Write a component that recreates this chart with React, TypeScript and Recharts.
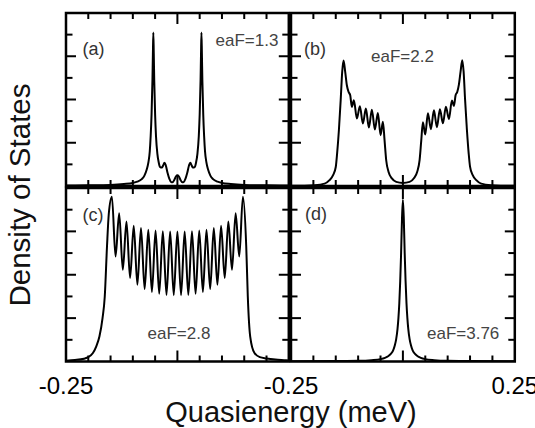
import { LineChart, Line, XAxis, YAxis, ReferenceLine, ReferenceArea } from "recharts";

const FONT = '"Liberation Sans", Arial, Helvetica, sans-serif';

// [quasienergy (meV), density of states] for each field strength
const dosA: [number, number][] = [
  [-0.25, 0.02], [-0.2, 0.03], [-0.15, 0.05], [-0.12, 0.09], [-0.1, 0.14], [-0.09, 0.2],
  [-0.08, 0.32], [-0.074, 0.48], [-0.069, 0.75], [-0.065, 1.1], [-0.062, 1.6], [-0.06, 2.3],
  [-0.058, 3.3], [-0.056, 4.9], [-0.055, 6.1], [-0.054, 7.1], [-0.053, 6.1], [-0.052, 4.9],
  [-0.05, 3.3], [-0.048, 2.3], [-0.045, 1.5], [-0.042, 1.1], [-0.039, 0.88], [-0.035, 0.85],
  [-0.032, 0.95], [-0.029, 1.08], [-0.026, 0.95], [-0.022, 0.6], [-0.018, 0.33], [-0.014, 0.18],
  [-0.011, 0.17], [-0.007, 0.28], [-0.003, 0.45], [0, 0.5], [0.003, 0.45], [0.007, 0.28],
  [0.011, 0.17], [0.014, 0.18], [0.018, 0.33], [0.022, 0.6], [0.026, 0.95], [0.029, 1.08],
  [0.032, 0.95], [0.035, 0.85], [0.039, 0.88], [0.042, 1.1], [0.045, 1.5], [0.048, 2.3],
  [0.05, 3.3], [0.052, 4.9], [0.053, 6.1], [0.054, 7.1], [0.055, 6.1], [0.056, 4.9],
  [0.058, 3.3], [0.06, 2.3], [0.062, 1.6], [0.065, 1.1], [0.069, 0.75], [0.074, 0.48],
  [0.08, 0.32], [0.09, 0.2], [0.1, 0.14], [0.12, 0.09], [0.15, 0.05], [0.2, 0.03], [0.25, 0.02],
];

const dosB: [number, number][] = [
  [-0.25, 0.01], [-0.242, 0.01], [-0.197, 0.04], [-0.175, 0.11], [-0.164, 0.27], [-0.156, 0.5],
  [-0.15, 0.88], [-0.147, 1.5], [-0.143, 2.58], [-0.139, 3.97], [-0.1356, 5.28], [-0.1326, 5.8],
  [-0.1289, 5.28], [-0.1252, 4.66], [-0.1214, 4.35], [-0.1177, 4.2], [-0.114, 3.66], [-0.1095, 3.97],
  [-0.1028, 3.12], [-0.0961, 3.69], [-0.0894, 2.89], [-0.0827, 3.58], [-0.076, 2.7], [-0.0693, 3.53],
  [-0.0626, 2.61], [-0.0559, 3.38], [-0.0499, 2.35], [-0.0447, 2.97], [-0.041, 2.12], [-0.0373, 1.19],
  [-0.032, 0.65], [-0.0246, 0.35], [-0.0149, 0.19], [0, 0.14], [0.0149, 0.19], [0.0246, 0.36],
  [0.032, 0.66], [0.0373, 1.2], [0.041, 2.1], [0.0447, 2.95], [0.0499, 2.38], [0.0559, 3.36],
  [0.0626, 2.63], [0.0693, 3.5], [0.076, 2.72], [0.0827, 3.55], [0.0894, 2.9], [0.0961, 3.66],
  [0.1028, 3.1], [0.1095, 3.95], [0.114, 3.7], [0.1177, 4.2], [0.1214, 4.35], [0.1252, 4.7],
  [0.1289, 5.3], [0.1326, 5.82], [0.1356, 5.3], [0.139, 3.97], [0.143, 2.6], [0.147, 1.5],
  [0.15, 0.9], [0.156, 0.5], [0.164, 0.27], [0.175, 0.11], [0.197, 0.04], [0.242, 0.01], [0.25, 0.01],
];

const dosC: [number, number][] = [
  [-0.25, 0.04], [-0.23, 0.07], [-0.21, 0.13], [-0.2, 0.2], [-0.19, 0.38], [-0.182, 0.7],
  [-0.175, 1.15], [-0.168, 2.0], [-0.163, 3.0], [-0.158, 5.3], [-0.154, 6.8], [-0.147, 7.6],
  [-0.1388, 4.84], [-0.1307, 6.84], [-0.1225, 4.23], [-0.1143, 6.46], [-0.1062, 3.85], [-0.098, 6.26],
  [-0.0898, 3.54], [-0.0817, 6.15], [-0.0735, 3.34], [-0.0653, 6.07], [-0.0572, 3.21], [-0.049, 6.04],
  [-0.0408, 3.12], [-0.0327, 6.01], [-0.0245, 3.07], [-0.0163, 6.0], [-0.0082, 3.06], [0, 6.0],
  [0.0082, 3.06], [0.0163, 6.0], [0.0245, 3.07], [0.0327, 6.01], [0.0408, 3.12], [0.049, 6.04],
  [0.0572, 3.21], [0.0653, 6.07], [0.0735, 3.34], [0.0817, 6.15], [0.0898, 3.54], [0.098, 6.26],
  [0.1062, 3.85], [0.1143, 6.46], [0.1225, 4.23], [0.1307, 6.84], [0.1388, 4.84], [0.147, 7.6],
  [0.1545, 5.3], [0.158, 3.0], [0.1634, 1.15], [0.173, 0.39], [0.185, 0.2], [0.2, 0.14],
  [0.22, 0.09], [0.244, 0.06], [0.25, 0.05],
];

const dosD: [number, number][] = [
  [-0.25, 0.01], [-0.15, 0.02], [-0.1, 0.03], [-0.07, 0.06], [-0.05, 0.11], [-0.04, 0.17],
  [-0.033, 0.24], [-0.027, 0.35], [-0.022, 0.5], [-0.018, 0.75], [-0.015, 1.03], [-0.012, 1.5],
  [-0.01, 2.0], [-0.008, 2.7], [-0.006, 3.7], [-0.004, 5.0], [-0.002, 6.6], [0, 7.45],
  [0.002, 6.6], [0.004, 5.0], [0.006, 3.7], [0.008, 2.7], [0.01, 2.0], [0.012, 1.5],
  [0.015, 1.03], [0.018, 0.75], [0.022, 0.5], [0.027, 0.35], [0.033, 0.24], [0.04, 0.17],
  [0.05, 0.11], [0.07, 0.06], [0.1, 0.03], [0.15, 0.02], [0.25, 0.01],
];

const X_DOMAIN: [number, number] = [-0.25, 0.25];
const Y_DOMAIN: [number, number] = [0, 8];
const X_MINOR = [-0.2, -0.15, -0.1, -0.05, 0.05, 0.1, 0.15, 0.2];
const X_MAJOR = [0];
const Y_MINOR = [1, 3, 5, 7];
const Y_MAJOR = [2, 4, 6];

type Panel = {
  id: string;
  data: [number, number][];
  x: number;
  y: number;
  w: number;
  h: number;
  ticks: number[];
  pad: number;
};

const PANELS: Panel[] = [
  { id: "a", data: dosA, x: 66, y: 12.8, w: 222.8, h: 173, ticks: [], pad: 4 },
  { id: "b", data: dosB, x: 291.2, y: 12.8, w: 223.8, h: 173, ticks: [], pad: 4 },
  { id: "c", data: dosC, x: 66, y: 188.2, w: 222.8, h: 173.5, ticks: [-0.25], pad: 40 },
  { id: "d", data: dosD, x: 291.2, y: 188.2, w: 223.8, h: 173.5, ticks: [-0.25, 0.25], pad: 40 },
];

const LABELS = [
  { text: "(a)", x: 82.5, y: 54.5, size: 18, fill: "#333" },
  { text: "eaF=1.3", x: 215.5, y: 45.5, size: 17, fill: "#444" },
  { text: "(b)", x: 304, y: 54.5, size: 18, fill: "#333" },
  { text: "eaF=2.2", x: 371, y: 62, size: 17, fill: "#444" },
  { text: "(c)", x: 82.5, y: 221, size: 18, fill: "#333" },
  { text: "eaF=2.8", x: 147.5, y: 339, size: 17, fill: "#444" },
  { text: "(d)", x: 305, y: 220, size: 18, fill: "#333" },
  { text: "eaF=3.76", x: 427, y: 339, size: 17, fill: "#444" },
];

function tickMarks(h: number, w: number) {
  // tick lengths in data units, from pixel lengths
  const yPx = (Y_DOMAIN[1] - Y_DOMAIN[0]) / h;
  const xPx = (X_DOMAIN[1] - X_DOMAIN[0]) / w;
  const segs: { x1: number; y1: number; x2: number; y2: number }[] = [];
  const vert = (x: number, len: number) => {
    segs.push({ x1: x, y1: Y_DOMAIN[0], x2: x, y2: Y_DOMAIN[0] + len * yPx });
    segs.push({ x1: x, y1: Y_DOMAIN[1], x2: x, y2: Y_DOMAIN[1] - len * yPx });
  };
  const horiz = (y: number, len: number) => {
    segs.push({ x1: X_DOMAIN[0], y1: y, x2: X_DOMAIN[0] + len * xPx, y2: y });
    segs.push({ x1: X_DOMAIN[1], y1: y, x2: X_DOMAIN[1] - len * xPx, y2: y });
  };
  X_MINOR.forEach((t) => vert(t, 6));
  X_MAJOR.forEach((t) => vert(t, 11));
  Y_MINOR.forEach((t) => horiz(t, 6.5));
  Y_MAJOR.forEach((t) => horiz(t, 10));
  return segs;
}

function DosPanel({ p }: { p: Panel }) {
  const rows = p.data.map(([x, y]) => ({ x, y }));
  const showAxis = p.ticks.length > 0;
  const margin = { top: 4, right: p.pad, bottom: showAxis ? 0 : 4, left: p.pad };
  const axisH = 40;
  const width = p.w + margin.left + margin.right;
  const height = p.h + margin.top + (showAxis ? axisH : margin.bottom);
  return (
    <div style={{ position: "absolute", left: p.x - margin.left, top: p.y - margin.top }}>
      <LineChart width={width} height={height} data={rows} margin={margin}>
        <XAxis
          type="number"
          dataKey="x"
          domain={X_DOMAIN}
          ticks={p.ticks}
          hide={!showAxis}
          height={axisH}
          axisLine={false}
          tickLine={false}
          tickSize={0}
          tickMargin={15}
          interval={0}
          allowDataOverflow
          tick={{ fontSize: 24, fill: "#000", fontFamily: FONT }}
        />
        <YAxis type="number" domain={Y_DOMAIN} hide allowDataOverflow />
        <Line
          type="monotone"
          dataKey="y"
          stroke="#000"
          strokeWidth={2}
          dot={false}
          isAnimationActive={false}
        />
        {tickMarks(p.h, p.w).map((s, i) => (
          <ReferenceLine
            key={i}
            segment={[{ x: s.x1, y: s.y1 }, { x: s.x2, y: s.y2 }]}
            stroke="#000"
            strokeWidth={2}
            ifOverflow="visible"
          />
        ))}
        <ReferenceArea
          x1={X_DOMAIN[0]}
          x2={X_DOMAIN[1]}
          y1={Y_DOMAIN[0]}
          y2={Y_DOMAIN[1]}
          fill="none"
          fillOpacity={0}
          stroke="#000"
          strokeWidth={2.5}
          strokeOpacity={1}
          ifOverflow="visible"
        />
      </LineChart>
    </div>
  );
}

export default function App() {
  return (
    <div
      style={{
        position: "absolute",
        left: 0,
        top: 0,
        width: 535,
        height: 428,
        overflow: "hidden",
        background: "#fff",
        fontFamily: FONT,
      }}
    >
      {PANELS.map((p) => (
        <DosPanel key={p.id} p={p} />
      ))}
      <svg
        width={535}
        height={428}
        style={{ position: "absolute", left: 0, top: 0, pointerEvents: "none" }}
      >
        {LABELS.map((l) => (
          <text key={l.text} x={l.x} y={l.y} fontSize={l.size} fill={l.fill} fontFamily={FONT}>
            {l.text}
          </text>
        ))}
        <text x={291} y={422} fontSize={29} fill="#111" textAnchor="middle" fontFamily={FONT}>
          Quasienergy (meV)
        </text>
        <text
          x={30}
          y={195}
          fontSize={29.5}
          fill="#111"
          textAnchor="middle"
          fontFamily={FONT}
          transform="rotate(-90 30 195)"
        >
          Density of States
        </text>
      </svg>
    </div>
  );
}
